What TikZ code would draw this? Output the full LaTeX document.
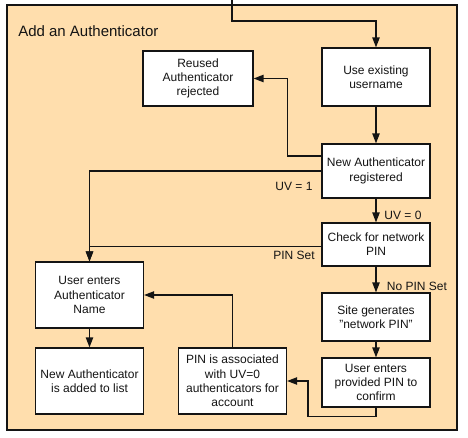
\documentclass[tikz,border=0pt]{standalone}
\usepackage{fontspec}
\setmainfont{Liberation Sans}
\definecolor{panel}{RGB}{255, 222, 173}
\definecolor{darkline}{RGB}{20, 20, 20}
\usetikzlibrary{arrows.meta, positioning, calc}
\tikzset{
    box/.style={
        rectangle, draw=darkline, fill=white, text=darkline,
        minimum width=81pt, minimum height=#1, inner sep=1pt,
        font=\fontsize{9}{10.7}\selectfont, align=center, line width=0.9pt
    },
    arrow/.style={-{Triangle[length=7.5pt, width=5.5pt]}, line width=1pt, color=darkline},
    anno/.style={font=\fontsize{9}{10.7}\selectfont, text=darkline, inner sep=0pt},
    heading/.style={font=\fontsize{11.25}{13}\selectfont, text=darkline, inner sep=0pt, anchor=west}
}
\begin{document}
\begin{tikzpicture}[x=0.75pt, y=-0.75pt]
    \useasboundingbox (0,0) rectangle (468,438);
    \draw[line width=0.8pt, draw=darkline, fill=panel] (7,5) rectangle (457,430);
    \node[heading] (title) at (18,31) {Add an Authenticator};

    % right column
    \node[box=43.5pt] (use) at (376,77) {Use existing\\username};
    \node[box=40.5pt] (reg) at (376,171) {New Authenticator\\registered};
    \node[box=32.25pt] (check) at (376,244.5) {Check for network\\PIN};
    \node[box=36pt] (site) at (376,317) {Site generates\\"network PIN"};
    \node[box=36.75pt] (pin) at (376,382.5) {User enters\\provided PIN to\\confirm};

    % the others
    \node[box=41.25pt, minimum width=82.5pt] (reused) at (198,78.5) {Reused\\Authenticator\\rejected};
    \node[box=49.5pt] (assoc) at (232.5,381) {PIN is associated\\with UV=0\\authenticators for\\account};
    \node[box=49.5pt] (name) at (89.5,295) {User enters\\Authenticator\\Name};
    \node[box=49.5pt] (added) at (89.5,381) {New Authenticator\\is added to list};

    % labels on the branches
    \node[anno] (uvone) at (294,186) {UV = 1};
    \node[anno] (uvzero) at (403,215) {UV = 0};
    \node[anno] (pinset) at (294,255) {PIN Set};
    \node[anno] (nopin) at (417,286) {No PIN Set};

    % connectors
    \coordinate (entry) at (232,0);
    \draw[arrow] (entry) -- ++(0,21) -| (use.north);
    \draw[arrow] (use) -- (reg);
    \draw[arrow] ([yshift=11.25pt]reg.west) -| ($(reused.east)+(34,0)$) -- (reused.east);
    \draw[arrow] (reg.west) -| (name.north);
    \draw[arrow] (reg) -- (check);
    \draw[arrow] ([yshift=-1.5pt]check.west) -| (name.north);
    \draw[arrow] (check) -- (site);
    \draw[arrow] (site) -- (pin);
    \draw[arrow] (pin.south) -- ++(0,9) -| ($(assoc.east)+(21,0)$) -- (assoc.east);
    \draw[arrow] (assoc.north) |- (name.east);
    \draw[arrow] (name) -- (added);
\end{tikzpicture}
\end{document}
